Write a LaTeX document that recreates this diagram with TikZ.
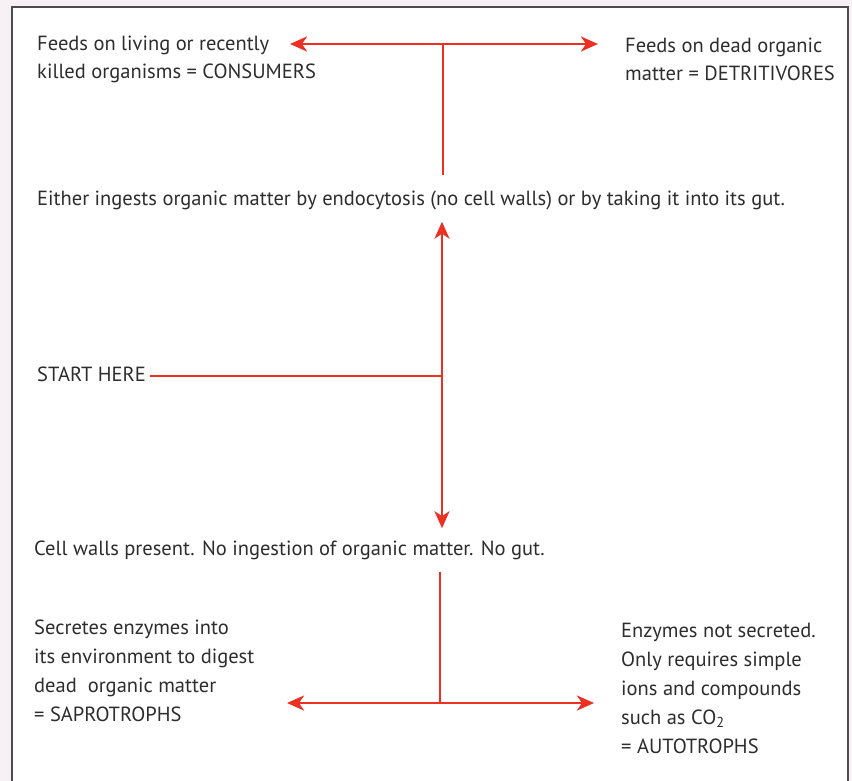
\documentclass[tikz,border=0pt]{standalone}
\usepackage{fontspec}
\setmainfont{PT Sans}
\usetikzlibrary{calc,positioning,arrows.meta}
\definecolor{arrowred}{RGB}{236,48,36}
\definecolor{textgray}{RGB}{45,45,45}
\definecolor{pagepink}{RGB}{247,240,244}

\begin{document}
\begin{tikzpicture}[
    x=1pt, y=-1pt,
    font=\fontsize{20.5}{28.8}\selectfont,
    label/.style={anchor=base west, align=left, inner sep=0pt, text=textgray},
    trunk/.style={draw=arrowred, line width=2.8pt},
    flow/.style={trunk, -{Stealth[length=17pt,width=15pt,inset=5pt]}}
]
\useasboundingbox[fill=pagepink] (0,0) rectangle (852,781);
\fill[white] (12,7) rectangle (848,781);
\draw[textgray!85, line width=2pt] (12,781) -- (12,7) -- (848,7) -- (848,781);

% base anchor sits on the last line
\node[label] (Consumers) at (37,79) {Feeds on living or recently\\killed organisms = CONSUMERS};
\node[label] (Detritivores) at (625,81) {Feeds on dead organic\\matter = DETRITIVORES};
\node[label] (Ingests) at (37,206) {Either ingests organic matter by endocytosis (no cell walls) or by taking it into its gut.};
\node[label] (Start) at (37,381) {START HERE};
\node[label] (CellWalls) at (34,555) {Cell walls present. No ingestion of organic matter. No gut.};
\node[label] (Saprotrophs) at (34,721) {Secretes enzymes into\\its environment to digest\\dead\ \ organic matter\\= SAPROTROPHS};
\node[label] (Autotrophs) at (621,753) {Enzymes not secreted.\\Only requires simple\\ions and compounds\\such as CO\textsubscript{2}\\= AUTOTROPHS};

\coordinate (TopFork) at (443,44);
\coordinate (TopLeft) at (290,44);
\coordinate (TopRight) at (598,44);
\coordinate (MidFork) at (442,376);
\coordinate (BotFork) at (440,703);
\coordinate (BotLeft) at (287,703);
\coordinate (BotRight) at (594,703);

\draw[trunk, shorten <=16pt] (Ingests.north -| TopFork) -- (TopFork);
\draw[flow] (TopFork) -- (TopLeft);
\draw[flow] (TopFork) -- (TopRight);
\draw[trunk, shorten <=4pt] (Start.east |- MidFork) -- (MidFork);
\draw[flow, shorten >=11pt] (MidFork) -- (Ingests.south -| MidFork);
\draw[flow, shorten >=12pt] (MidFork) -- (CellWalls.north -| MidFork);
\draw[trunk, shorten <=12pt] (CellWalls.south -| BotFork) -- (BotFork);
\draw[flow] (BotFork) -- (BotLeft);
\draw[flow] (BotFork) -- (BotRight);
\end{tikzpicture}
\end{document}
